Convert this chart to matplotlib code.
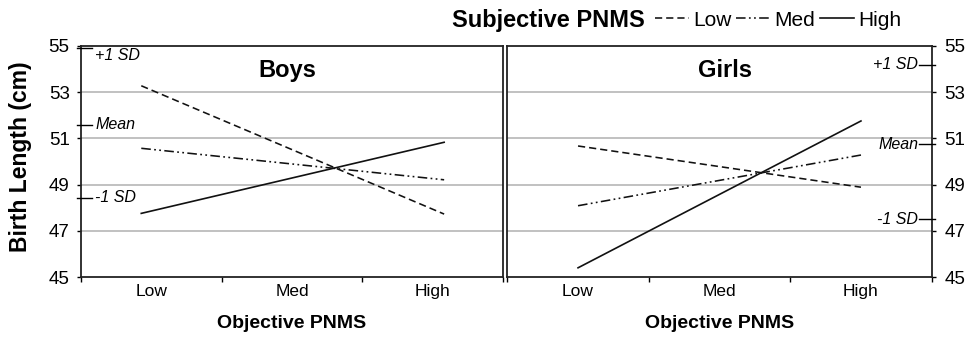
import matplotlib
matplotlib.use("Agg")
import matplotlib.pyplot as plt
import matplotlib.transforms as mtransforms

plt.rcParams['font.family'] = ['Liberation Sans', 'DejaVu Sans']

# ---------------- data ----------------
categories = ["Low", "Med", "High"]
series_names = ["Low", "Med", "High"]          # Subjective PNMS levels
boys_x = [-0.07, 2.08]                          # Objective PNMS (category units)
girls_x = [0.0, 2.0]
boys_low = [53.27, 47.73]
boys_med = [50.57, 49.21]
boys_high = [47.76, 50.83]
girls_low = [50.67, 48.89]
girls_med = [48.09, 50.28]
girls_high = [45.41, 51.75]
sd_labels = ["+1 SD", "Mean", "-1 SD"]
boys_sd = [54.89, 51.58, 48.44]
girls_sd = [54.17, 50.74, 47.50]
y_ticks = [45, 47, 49, 51, 53, 55]
grid_vals = [47, 49, 51, 53]

# ---------------- styles ----------------
W, H = 965, 337
fig = plt.figure(figsize=(W / 100, H / 100), dpi=100)

def fx(px):
    return px / W

def fy(py):
    return 1 - py / H

top, bot = 45.7, 277.3
axL = fig.add_axes([fx(80.7), fy(bot), fx(503.3 - 80.7), (bot - top) / H])
axR = fig.add_axes([fx(507.3), fy(bot), fx(931.7 - 507.3), (bot - top) / H])

styles = [
    dict(color="#111111", lw=1.15, dashes=(4.5, 2.5)),
    dict(color="#111111", lw=1.15, dashes=(6, 2.1, 1.1, 2.1, 1.1, 2.1)),
    dict(color="#111111", lw=1.2, linestyle="-"),
]

panels = [
    (axL, boys_x, [boys_low, boys_med, boys_high], "Boys", 0.49, boys_sd, "left"),
    (axR, girls_x, [girls_low, girls_med, girls_high], "Girls", 0.513, girls_sd, "right"),
]

handles = []
for ax, xs, ys_list, title, tx, sdv, side in panels:
    ax.set_xlim(-0.5, 2.5)
    ax.set_ylim(45, 55)
    for g in grid_vals:
        ax.axhline(g, color="#b0b0b0", lw=1.1, zorder=1)
    hs = []
    for ys, st, nm in zip(ys_list, styles, series_names):
        h, = ax.plot(xs, ys, label=nm, zorder=3, **st)
        hs.append(h)
    handles = hs
    for sp in ax.spines.values():
        sp.set_linewidth(1.3)
        sp.set_color("#222222")
    # x ticks: boundaries as major ticks, labels at centers
    ax.set_xticks([-0.5, 0.5, 1.5, 2.5])
    ax.set_xticklabels([])
    ax.set_xticks([0, 1, 2], minor=True)
    ax.set_xticklabels(categories, minor=True, fontsize=12.5)
    ax.tick_params(axis="x", which="major", length=3.5, width=1.0, direction="out")
    ax.tick_params(axis="x", which="minor", length=0, pad=5)
    ax.set_xlabel("Objective PNMS", fontsize=14, fontweight="bold", labelpad=11)
    ax.text(tx, 0.895, title, transform=ax.transAxes, ha="center", va="center",
            fontsize=17, fontweight="bold")
    trans = mtransforms.blended_transform_factory(ax.transAxes, ax.transData)
    ax.set_yticks(y_ticks)
    if side == "left":
        ax.yaxis.tick_left()
        ax.tick_params(axis="y", length=3, width=1.0, direction="out", pad=5,
                       labelsize=13.5)
        for v, lab in zip(sdv, sd_labels):
            ax.plot([-0.009, 0.027], [v, v], color="black", lw=1.0,
                    transform=trans, clip_on=False, zorder=4)
            va = "top" if v > 54.5 else "center"
            ax.text(0.034, v, lab, transform=trans, ha="left", va=va,
                    fontsize=11.5, style="italic")
    else:
        ax.yaxis.tick_right()
        ax.tick_params(axis="y", length=3, width=1.0, direction="out", pad=6,
                       labelsize=13.5, left=False)
        for v, lab in zip(sdv, sd_labels):
            ax.plot([0.971, 1.008], [v, v], color="black", lw=1.0,
                    transform=trans, clip_on=False, zorder=4)
            ax.text(0.968, v, lab, transform=trans, ha="right", va="center",
                    fontsize=11.5, style="italic")

axL.set_ylabel("Birth Length (cm)", fontsize=16.5, fontweight="bold")
axL.yaxis.set_label_coords(-0.116, 0.52)

# legend
fig.text(fx(451.7), fy(20), "Subjective PNMS", fontsize=17, fontweight="bold",
         ha="left", va="center")
fig.legend(handles=handles, labels=series_names, loc="center left",
           bbox_to_anchor=(fx(655), fy(20)), ncol=3, frameon=False,
           fontsize=15, handlelength=1.65, handletextpad=0.2,
           columnspacing=0.2, borderpad=0, borderaxespad=0)

fig.savefig("out.png", dpi=100)
